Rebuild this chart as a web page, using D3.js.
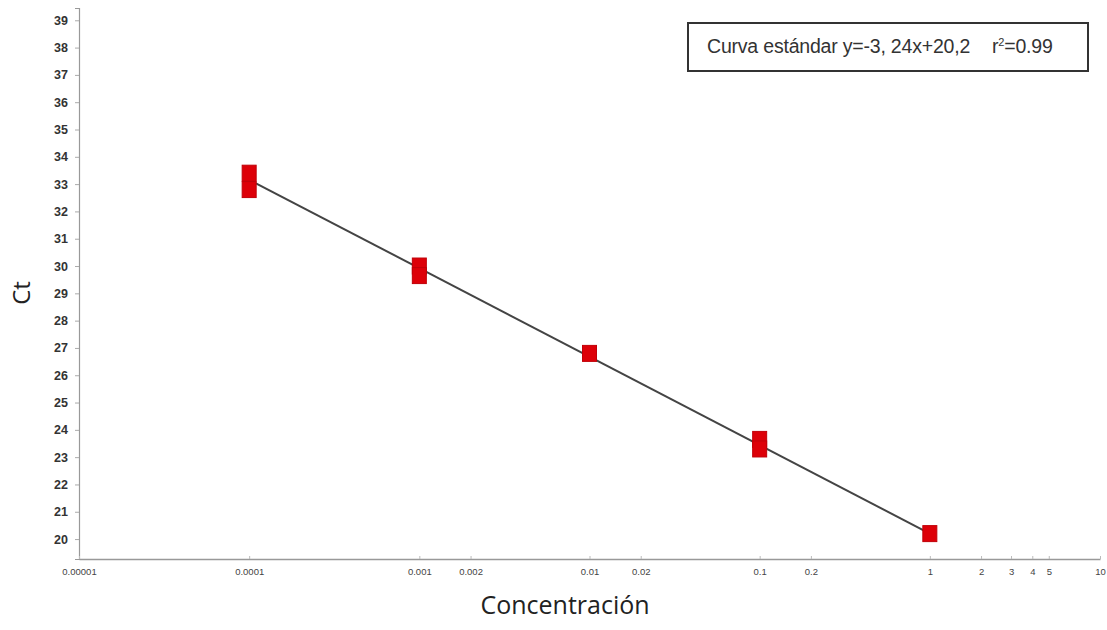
<!DOCTYPE html>
<html><head><meta charset="utf-8">
<script src="https://cdn.jsdelivr.net/npm/d3@7"></script>
<style>body{margin:0;background:#fff;}svg{display:block;}</style>
</head><body>
<svg id="c" width="1107" height="630"></svg>
<script>
// data
const concentrations = [0.0001, 0.0001, 0.001, 0.001, 0.01, 0.1, 0.1, 1];
const ctValues = [33.4, 32.8, 30.0, 29.65, 26.8, 23.65, 23.3, 20.2];
const fitX = [0.0001, 1];
const fitY = [33.16, 20.2];
const xTickValues = [0.00001, 0.0001, 0.001, 0.002, 0.01, 0.02, 0.1, 0.2, 1, 2, 3, 4, 5, 10];
const xTickLabels = ["0.00001", "0.0001", "0.001", "0.002", "0.01", "0.02", "0.1", "0.2", "1", "2", "3", "4", "5", "10"];
const yTickValues = d3.range(20, 40);
const legendText = "Curva estándar y=-3, 24x+20,2";

const svg = d3.select("#c");
const x = d3.scaleLog().domain([0.00001, 10]).range([79, 1100]);
const y = d3.scaleLinear().domain([19.27, 39.45]).range([559, 8]);

// y axis
const yAxis = d3.axisLeft(y).tickValues(yTickValues).tickSize(4).tickFormat(d3.format("d"));
const gy = svg.append("g").attr("transform", "translate(79,0)").call(yAxis);
gy.select(".domain").attr("stroke", "#999").attr("stroke-width", 1.2);
gy.selectAll(".tick line").attr("stroke", "#aaa");
gy.selectAll(".tick text").attr("font-family", "Arial, 'Liberation Sans', sans-serif")
  .attr("font-size", 12.5).attr("font-weight", "bold").attr("fill", "#333").attr("dx", -4);

// x axis
const xAxis = d3.axisBottom(x).tickValues(xTickValues).tickSize(0)
  .tickFormat((d, i) => xTickLabels[i]);
const gx = svg.append("g").attr("transform", "translate(0,559)").call(xAxis);
gx.select(".domain").attr("stroke", "#999").attr("stroke-width", 1.6);
gx.selectAll(".tick text").attr("font-family", "Arial, 'Liberation Sans', sans-serif")
  .attr("font-size", 9.5).attr("fill", "#444").attr("dy", "1.4em");
gx.selectAll(".tick").append("line").attr("y1", 0).attr("y2", -3).attr("stroke", "#bbb");

// fit line
const line = d3.line().x(d => x(d[0])).y(d => y(d[1]));
svg.append("path").datum(fitX.map((v, i) => [v, fitY[i]]))
  .attr("d", line).attr("fill", "none").attr("stroke", "#444").attr("stroke-width", 2);

// markers
svg.append("g").selectAll("rect").data(concentrations.map((c, i) => [c, ctValues[i]]))
  .join("rect")
  .attr("x", d => x(d[0]) - 7).attr("y", d => y(d[1]) - 8)
  .attr("width", 14).attr("height", 16)
  .attr("fill", "#dd0008").attr("stroke", "#c00008").attr("stroke-width", 1);

// legend box
svg.append("rect").attr("x", 688).attr("y", 23).attr("width", 400).attr("height", 48)
  .attr("fill", "#fff").attr("stroke", "#333").attr("stroke-width", 2);
const lt = svg.append("text").attr("x", 707).attr("y", 53)
  .attr("font-family", "Arial, 'Liberation Sans', sans-serif").attr("font-size", 19.5).attr("fill", "#333")
  .attr("letter-spacing", -0.2);
lt.append("tspan").text(legendText);
lt.append("tspan").attr("dx", 22).text("r");
lt.append("tspan").attr("dy", -7).attr("font-size", 11).text("2");
lt.append("tspan").attr("dy", 7).text("=0.99");

// axis titles
svg.append("text").attr("x", 565).attr("y", 614).attr("text-anchor", "middle")
  .attr("font-family", "'Open Sans', 'Noto Sans', sans-serif").attr("font-size", 25).attr("fill", "#222")
  .text("Concentración");
svg.append("text").attr("transform", "translate(30,293) rotate(-90)").attr("text-anchor", "middle")
  .attr("font-family", "'Open Sans', 'Noto Sans', sans-serif").attr("font-size", 24).attr("fill", "#222")
  .text("Ct");
</script>
</body></html>
